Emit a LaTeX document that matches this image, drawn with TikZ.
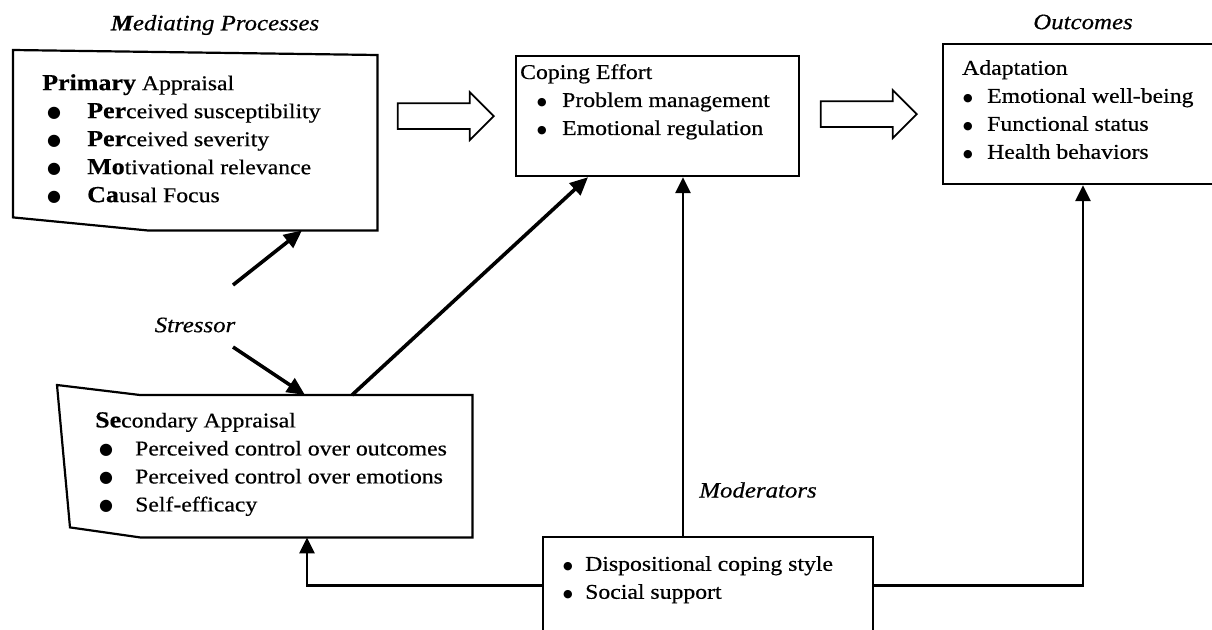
\documentclass[tikz,border=0pt]{standalone}
\usepackage{fontspec}
\setmainfont{Liberation Serif}[FakeStretch=1.13,FakeBold=0.5]
\newfontfamily\symfont{DejaVu Sans}
\usetikzlibrary{positioning,shapes.arrows,arrows.meta}

\newcommand{\lead}[1]{{\bfseries\fontsize{23}{28}\selectfont #1}}
\newcommand{\bigbul}{\raisebox{1pt}{\symfont\fontsize{16}{28}\selectfont ●}}
\newcommand{\dotbul}{\raisebox{1.5pt}{\symfont\fontsize{11}{28}\selectfont ●}}
\newcommand{\bul}[2]{\makebox[#2][l]{\hspace{#1}\dotbul}}
\newcommand{\bbul}[2]{\makebox[#2][l]{\hspace{#1}\bigbul}}

\begin{document}
\begin{tikzpicture}[x=1pt,y=-1pt,
    box/.style={draw,line width=2.2pt,anchor=north west,inner sep=0pt},
    frame/.style={anchor=north west,inner sep=0pt},
    edge/.style={line width=2.2pt,line join=miter},
    txt/.style={align=left,inner sep=0pt,font=\fontsize{21}{28}\selectfont},
    heading/.style={inner sep=0pt,font=\fontsize{22}{24}\selectfont\itshape},
    hollow/.style={draw,line width=1.8pt,single arrow,single arrow head extend=11pt,
      minimum height=96pt,inner xsep=2pt,inner ysep=12pt},
    link/.style={line width=3.6pt,-{Triangle[width=16pt,length=18pt]}},
    modlink/.style={line width=2.8pt,-{Triangle[width=15pt,length=16pt]}}
  ]
  \useasboundingbox (0,0) rectangle (1212,629);

  % headings
  \node[heading] (medhead) at (215,25) {\textbf{M}ediating Processes};
  \node[heading] (outhead) at (1083,22) {Outcomes};

  % primary appraisal
  \node[frame,minimum width=364pt,minimum height=175pt] (prim) at (13,55) {};
  \draw[edge] ([yshift=5pt]prim.north west) -- (prim.north east) -- (prim.south east)
    -- ([xshift=134pt]prim.south west) -- ([yshift=13pt]prim.south west) -- cycle;
  \node[txt,below right=19pt and 29pt of prim.north west] (primtxt)
    {\lead{Primary} Appraisal\\
     \bbul{5pt}{45pt}\lead{Per}ceived susceptibility\\
     \bbul{5pt}{45pt}\lead{Per}ceived severity\\
     \bbul{5pt}{45pt}\lead{Mo}tivational relevance\\
     \bbul{5pt}{45pt}\lead{Ca}usal Focus};

  % secondary appraisal
  \node[frame,minimum width=415pt,minimum height=142pt] (sec) at (57,395) {};
  \draw[edge] ([yshift=10pt]sec.north west) -- ([xshift=83pt]sec.north west)
    -- (sec.north east) -- (sec.south east) -- ([xshift=83pt]sec.south west)
    -- ([xshift=13pt,yshift=10pt]sec.south west) -- cycle;
  \node[txt,below right=17pt and 38pt of sec.north west] (sectxt)
    {\lead{Se}condary Appraisal\\
     \bbul{4pt}{40pt}Perceived control over outcomes\\
     \bbul{4pt}{40pt}Perceived control over emotions\\
     \bbul{4pt}{40pt}Self-efficacy};

  % coping effort
  \node[box,minimum width=283pt,minimum height=120pt] (cope) at (515,55) {};
  \node[txt,below right=9pt and 5pt of cope.north west] (copetxt)
    {Coping Effort\\
     \bul{17pt}{42pt}Problem management\\
     \bul{17pt}{42pt}Emotional regulation};

  % adaptation
  \node[box,minimum width=283pt,minimum height=140pt] (adapt) at (942,43) {};
  \node[txt,below right=17pt and 20pt of adapt.north west] (adapttxt)
    {Adaptation\\
     \bul{1pt}{25pt}Emotional well-being\\
     \bul{1pt}{25pt}Functional status\\
     \bul{1pt}{25pt}Health behaviors};

  % moderators
  \node[box,minimum width=330pt,minimum height=96pt] (mod) at (542,536) {};
  \node[txt,below right=20pt and 21pt of mod.north west] (modtxt)
    {\bul{0pt}{22pt}Dispositional coping style\\
     \bul{0pt}{22pt}Social support};
  \node[heading] (modhead) at (758,490) {Moderators};

  % stressor
  \node[heading] (stress) at (195,325) {Stressor};
  \coordinate (sup) at (233,285);
  \coordinate (sdown) at (233,347);

  % hollow arrows
  \node[hollow,anchor=tip] (harr1) at ([xshift=-20pt]cope.west) {};
  \node[hollow,anchor=tip] (harr2) at ([xshift=-24pt]adapt.west) {};

  % the links
  \draw[link] (sup) -- ([xshift=289pt]prim.south west);
  \draw[link] (sdown) -- ([xshift=248pt]sec.north west);
  \draw[link] ([xshift=295pt]sec.north west) -- ([xshift=73pt]cope.south west);
  \draw[modlink] ([xshift=141pt]mod.north west) -- ([xshift=168pt]cope.south west);
  \draw[modlink] (mod.west) -| ([xshift=250pt]sec.south west);
  \draw[modlink] (mod.east) -| ([xshift=141pt]adapt.south west);
\end{tikzpicture}
\end{document}
